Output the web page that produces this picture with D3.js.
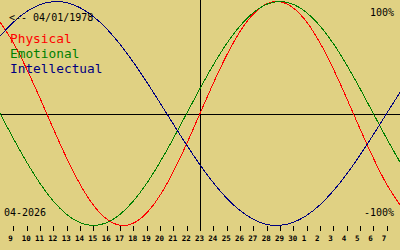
<!DOCTYPE html>
<html><head><meta charset="utf-8">
<script src="https://cdn.jsdelivr.net/npm/d3@7"></script>
<style>html,body{margin:0;padding:0;background:#e0d183;}svg{display:block;}</style>
</head><body>
<script>
// Day offsets 0..30 (day 8 of April .. 8 of May), today = index 15 (23)
const dayIndex = d3.range(0, 31);
const tickLabels = ["9","10","11","12","13","14","15","16","17","18","19","20","21","22","23","24","25","26","27","28","29","30","1","2","3","4","5","6","7"];
const physical = [0.817,0.631,0.398,0.136,-0.136,-0.398,-0.631,-0.817,-0.942,-0.998,-0.979,-0.888,-0.731,-0.520,-0.270,0,0.270,0.520,0.731,0.888,0.979,0.998,0.942,0.817,0.631,0.398,0.136,-0.136,-0.398,-0.631,-0.817];
const emotional = [0,-0.223,-0.434,-0.624,-0.782,-0.901,-0.975,-1,-0.975,-0.901,-0.782,-0.624,-0.434,-0.223,0,0.223,0.434,0.624,0.782,0.901,0.975,1,0.975,0.901,0.782,0.624,0.434,0.223,0,-0.223,-0.434];
const intellectual = [0.690,0.815,0.910,0.972,0.999,0.990,0.945,0.866,0.756,0.618,0.458,0.282,0.095,-0.095,-0.282,-0.458,-0.618,-0.756,-0.866,-0.945,-0.990,-0.999,-0.972,-0.910,-0.815,-0.690,-0.541,-0.372,-0.189,0,0.189];
const seriesNames = ["Physical","Emotional","Intellectual"];
const seriesColors = ["#ff0000","#008000","#000080"];
const todayIndex = 15;
const birthLabel = "<-- 04/01/1978";
const monthLabel = "04-2026";

const W = 400, H = 250;
const svg = d3.select("body").append("svg").attr("width", W).attr("height", H);
svg.append("rect").attr("width", W).attr("height", H).attr("fill", "#e0d183");

const x = d3.scaleLinear().domain([0, 30]).range([0, 400]);
const y = d3.scaleLinear().domain([-1, 1]).range([225.5, 1.5]);

// axes lines
svg.append("line").attr("x1", 0).attr("x2", W).attr("y1", 114.5).attr("y2", 114.5)
  .attr("stroke", "#000").attr("stroke-width", 1).attr("shape-rendering", "crispEdges");
svg.append("line").attr("x1", x(todayIndex) + 0.5).attr("x2", x(todayIndex) + 0.5).attr("y1", 0).attr("y2", 230)
  .attr("stroke", "#000").attr("stroke-width", 1).attr("shape-rendering", "crispEdges");

// ticks
const tickIdx = d3.range(1, 30);
svg.selectAll("line.tick").data(tickIdx).join("line").attr("class", "tick")
  .attr("x1", d => Math.round(x(d)) + 0.5).attr("x2", d => Math.round(x(d)) + 0.5)
  .attr("y1", 226).attr("y2", 231).attr("stroke", "#000").attr("shape-rendering", "crispEdges");
svg.selectAll("text.tl").data(tickIdx).join("text").attr("class", "tl")
  .attr("x", d => x(d) - 5).attr("y", 241)
  .attr("font-family", "DejaVu Sans Mono").attr("font-size", 7.5).attr("font-weight", "bold")
  .attr("fill", "#000").text((d, i) => tickLabels[i]);

// curves
const data = [physical, emotional, intellectual];
const line = d3.line().x((d, i) => x(dayIndex[i])).y(d => y(d)).curve(d3.curveNatural);
svg.selectAll("path.s").data(data).join("path").attr("class", "s")
  .attr("d", d => line(d)).attr("fill", "none")
  .attr("stroke", (d, i) => seriesColors[i]).attr("stroke-width", 1)
  .attr("shape-rendering", "crispEdges");

// texts
const mono = "DejaVu Sans Mono";
svg.append("text").attr("x", 9).attr("y", 21).attr("font-family", mono).attr("font-size", 10).text(birthLabel);
svg.append("text").attr("x", 394).attr("y", 16).attr("text-anchor", "end").attr("font-family", mono).attr("font-size", 10).text("100%");
svg.append("text").attr("x", 394).attr("y", 216).attr("text-anchor", "end").attr("font-family", mono).attr("font-size", 10).text("-100%");
svg.append("text").attr("x", 4).attr("y", 216).attr("font-family", mono).attr("font-size", 10).text(monthLabel);
svg.selectAll("text.lg").data(seriesNames).join("text").attr("class", "lg")
  .attr("x", 10).attr("y", (d, i) => 42.5 + i * 15)
  .attr("font-family", mono).attr("font-size", 12.8)
  .attr("fill", (d, i) => seriesColors[i]).text(d => d);
</script>
</body></html>
